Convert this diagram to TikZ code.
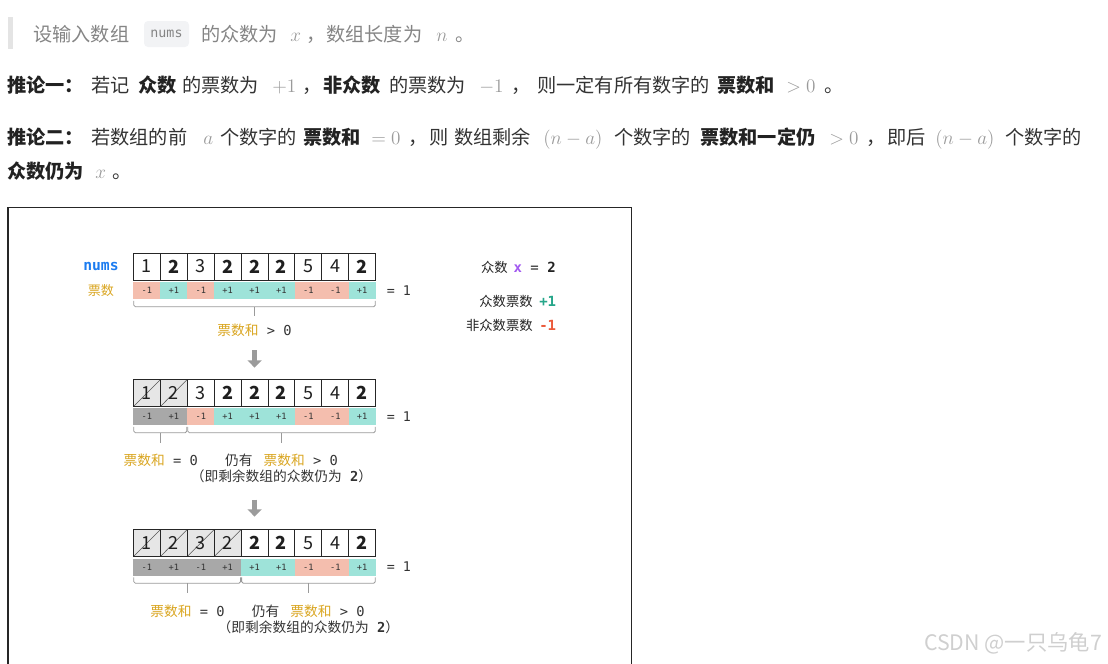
\documentclass[tikz,border=0pt]{standalone}
\usepackage[no-math]{fontspec}
\setmainfont{Noto Sans CJK SC}
\newfontfamily\monof{DejaVu Sans Mono}
\usepackage{xcolor}
\usetikzlibrary{positioning,arrows.meta,calc}
\definecolor{cText}{HTML}{333333}
\definecolor{cBold}{HTML}{222222}
\definecolor{cMath}{HTML}{9A9A9A}
\definecolor{cQuote}{HTML}{858585}
\definecolor{cBar}{HTML}{E4E4E4}
\definecolor{cCode}{HTML}{F2F3F5}
\definecolor{cNum}{HTML}{1F1F1F}
\definecolor{cLine}{HTML}{262626}
\definecolor{cDone}{HTML}{E6E6E6}
\definecolor{cDiag}{HTML}{555555}
\definecolor{cGone}{HTML}{A8A8A8}
\definecolor{cPos}{HTML}{9EE3D9}
\definecolor{cNeg}{HTML}{F4BEAE}
\definecolor{cBrk}{HTML}{9A9A9A}
\definecolor{cGold}{HTML}{D9A520}
\definecolor{cBlue}{HTML}{1C7CF0}
\definecolor{cPurple}{HTML}{A259F0}
\definecolor{cGreen}{HTML}{26A68A}
\definecolor{cRed}{HTML}{EB5A3B}
\definecolor{cArrow}{HTML}{9B9B9B}
\definecolor{cWm}{HTML}{CFCFCF}

\begin{document}
\begin{tikzpicture}[x=0.75pt,y=-0.75pt,
  txt/.style={anchor=base west,inner sep=0pt,text=cText,font=\fontsize{14.4}{17}\selectfont},
  bd/.style={txt,text=cBold,font=\fontsize{14.4}{17}\selectfont\bfseries},
  mth/.style={txt,text=cMath},
  qt/.style={txt,text=cQuote},
  code/.style={fill=cCode,rounded corners=3pt,minimum width=33.75pt,minimum height=19.5pt,inner sep=0pt,text=cQuote,font=\monof\fontsize{10}{12}\selectfont},
  cell/.style={draw=cLine,line width=0.6pt,fill=white,minimum width=20.2pt,minimum height=20.25pt,inner sep=0pt,text=cNum,font=\fontsize{13.5}{14}\selectfont},
  maj/.style={cell,font=\fontsize{13.5}{14}\selectfont\bfseries},
  done/.style={cell,fill=cDone,path picture={\draw[cDiag,line width=0.4pt] (path picture bounding box.south west) -- (path picture bounding box.north east);}},
  vote/.style={minimum width=20.2pt,minimum height=12.75pt,inner sep=0pt,text=cText,font=\monof\fontsize{6.5}{7}\selectfont},
  vplus/.style={vote,fill=cPos},
  vminus/.style={vote,fill=cNeg},
  vgone/.style={vote,fill=cGone},
  brk/.style={draw=cBrk,line width=0.6pt,rounded corners=1.2pt},
  lbl/.style={inner sep=0pt,text=cText,font=\fontsize{10.3}{12}\selectfont},
  mono/.style={inner sep=0pt,text=cText,font=\monof\fontsize{10}{12}\selectfont},
  lg/.style={inner sep=0pt,text=cBold,font=\fontsize{10}{12}\selectfont},
  lgv/.style={inner sep=0pt,text=cBold,font=\monof\fontsize{10.5}{12}\selectfont},
  blk/.style={draw=cArrow,line width=3.75pt,-{Triangle[width=10.5pt,length=5.5pt]}}
]
\useasboundingbox (0,0) rectangle (1108,664);
% quote line
\fill[cBar] (7.5,17) rectangle (13,49);
\node[code] (cd) at (166.5,34) {nums};
\foreach \x/\s/\t [count=\i] in {33/qt/设输入数组,201/qt/的众数为,290/mth/{$x$},306/qt/，,326/qt/数组长度为,436/mth/{$n$},455/qt/。}
  \node[\s] (p1-\i) at (\x,41) {\t};
% rule one
\foreach \x/\s/\t [count=\i] in {7/bd/推论一：,91/txt/若记,138/bd/众数,182/txt/的票数为,272/mth/{$+1$},302/txt/，,323/bd/非众数,389/txt/的票数为,479/mth/{$-1$},511/txt/，,537/txt/则一定有所有数字的,717/bd/票数和,786/mth/{$>0$},824/txt/。}
  \node[\s] (p2-\i) at (\x,92) {\t};
% rule two
\foreach \x/\s/\t [count=\i] in {7/bd/推论二：,91/txt/若数组的前,203/mth/{$a$},220/txt/个数字的,303/bd/票数和,371/mth/{$=0$},408/txt/，,429/txt/则,454/txt/数组剩余,543/mth/{$(n-a)$},614/txt/个数字的,700/bd/票数和一定仍,829/mth/{$>0$},866/txt/，,887/txt/即后,935/mth/{$(n-a)$},1005/txt/个数字的}
  \node[\s] (p3-\i) at (\x,144) {\t};
\foreach \x/\s/\t [count=\i] in {7/bd/众数仍为,95/mth/{$x$},112/txt/。}
  \node[\s] (p4-\i) at (\x,178) {\t};

% figure frame
\draw[cLine,line width=0.8pt] (8,670) -- (8,207.5) -- (631.5,207.5) -- (631.5,670);

% legend
\node[lg,anchor=east] (k1) at (508,267) {众数};
\node[lgv,right=4pt of k1] (k1v) {{\bfseries\color{cPurple}x}\ =\ {\bfseries 2}};
\node[lg,anchor=east] (k2) at (533,301) {众数票数};
\node[lgv,text=cGreen,right=4.5pt of k2] (k2v) {\bfseries +1};
\node[lg,anchor=east] (k3) at (533,325) {非众数票数};
\node[lgv,text=cRed,right=4.5pt of k3] (k3v) {\bfseries -1};

% row 1
\node[inner sep=0pt,text=cBlue,font=\monof\bfseries\fontsize{11}{12}\selectfont] (nm) at (101,266.5) {nums};
\node[inner sep=0pt,text=cGold,font=\fontsize{9.8}{12}\selectfont] (ps) at (101,290.5) {票数};
\foreach \v/\s/\w/\t [count=\i] in {1/cell/-1/vminus,2/maj/+1/vplus,3/cell/-1/vminus,2/maj/+1/vplus,2/maj/+1/vplus,2/maj/+1/vplus,5/cell/-1/vminus,4/cell/-1/vminus,2/maj/+1/vplus}{
  \node[\s] (n1-\i) at ({133.5+26.9*(\i-0.5)},266.5) {\v};
  \node[\t] (v1-\i) at ({133.5+26.9*(\i-0.5)},290.5) {\w};
}
\node[mono,right=8pt of v1-9] (eq1) {= 1};
\draw[brk] ($(v1-1.south west)+(0.6,1.5)$) -- ++(0,6) -| ($(v1-9.south east)+(-0.6,1.5)$);
\draw[brk] ($(v1-5.south)+(0,7.5)$) -- ++(0,9) coordinate (t1);
\node[lbl] (s1) at ($(t1)+(0,14.5)$) {\textcolor{cGold}{票数和}{\monof\ > 0}};

% row 2
\foreach \v/\s/\w/\t [count=\i] in {1/done/-1/vgone,2/done/+1/vgone,3/cell/-1/vminus,2/maj/+1/vplus,2/maj/+1/vplus,2/maj/+1/vplus,5/cell/-1/vminus,4/cell/-1/vminus,2/maj/+1/vplus}{
  \node[\s] (n2-\i) at ({133.5+26.9*(\i-0.5)},393) {\v};
  \node[\t] (v2-\i) at ({133.5+26.9*(\i-0.5)},416.5) {\w};
}
\draw[blk] ($(n2-5.north)+(0,-29)$) -- ($(n2-5.north)+(0,-11.5)$);
\node[mono,right=8pt of v2-9] (eq2) {= 1};
\draw[brk] ($(v2-1.south west)+(0.6,1.5)$) -- ++(0,6) -| ($(v2-2.south east)+(-0.8,1.5)$);
\draw[brk] ($(v2-3.south west)+(0.8,1.5)$) -- ++(0,6) -| ($(v2-9.south east)+(-0.6,1.5)$);
\draw[brk] ($(v2-1.south east)+(0,7.5)$) -- ++(0,10) coordinate (t2a);
\draw[brk] ($(v2-6.south)+(0,7.5)$) -- ++(0,10) coordinate (t2b);
\node[lbl] (s2a) at ($(t2a)+(0,18)$) {\textcolor{cGold}{票数和}{\monof\ = 0}};
\node[lbl] (s2b) at ($(t2b)+(0,18)$) {仍有\hspace{0.8em}\textcolor{cGold}{票数和}{\monof\ > 0}};
\node[lbl] (s2c) at ($(s2b)+(0,16)$) {（即剩余数组的众数仍为{\monof\ \bfseries 2}）};

% row 3
\foreach \v/\s/\w/\t [count=\i] in {1/done/-1/vgone,2/done/+1/vgone,3/done/-1/vgone,2/done/+1/vgone,2/maj/+1/vplus,2/maj/+1/vplus,5/cell/-1/vminus,4/cell/-1/vminus,2/maj/+1/vplus}{
  \node[\s] (n3-\i) at ({133.5+26.9*(\i-0.5)},543) {\v};
  \node[\t] (v3-\i) at ({133.5+26.9*(\i-0.5)},567) {\w};
}
\draw[blk] ($(n3-5.north)+(0,-29.5)$) -- ($(n3-5.north)+(0,-12.5)$);
\node[mono,right=8pt of v3-9] (eq3) {= 1};
\draw[brk] ($(v3-1.south west)+(0.6,1.5)$) -- ++(0,6) -| ($(v3-4.south east)+(-0.8,1.5)$);
\draw[brk] ($(v3-5.south west)+(0.8,1.5)$) -- ++(0,6) -| ($(v3-9.south east)+(-0.6,1.5)$);
\draw[brk] ($(v3-2.south east)+(0,7.5)$) -- ++(0,10) coordinate (t3a);
\draw[brk] ($(v3-7.south)+(0,7.5)$) -- ++(0,10) coordinate (t3b);
\node[lbl] (s3a) at ($(t3a)+(0,18)$) {\textcolor{cGold}{票数和}{\monof\ = 0}};
\node[lbl] (s3b) at ($(t3b)+(0,18)$) {仍有\hspace{0.8em}\textcolor{cGold}{票数和}{\monof\ > 0}};
\node[lbl] (s3c) at ($(s3b)+(0,16)$) {（即剩余数组的众数仍为{\monof\ \bfseries 2}）};

% watermark
\node[inner sep=0pt,text=cWm,font=\fontsize{16}{18}\selectfont] (wm) at (1013,643) {CSDN @一只乌龟7};
\end{tikzpicture}
\end{document}
